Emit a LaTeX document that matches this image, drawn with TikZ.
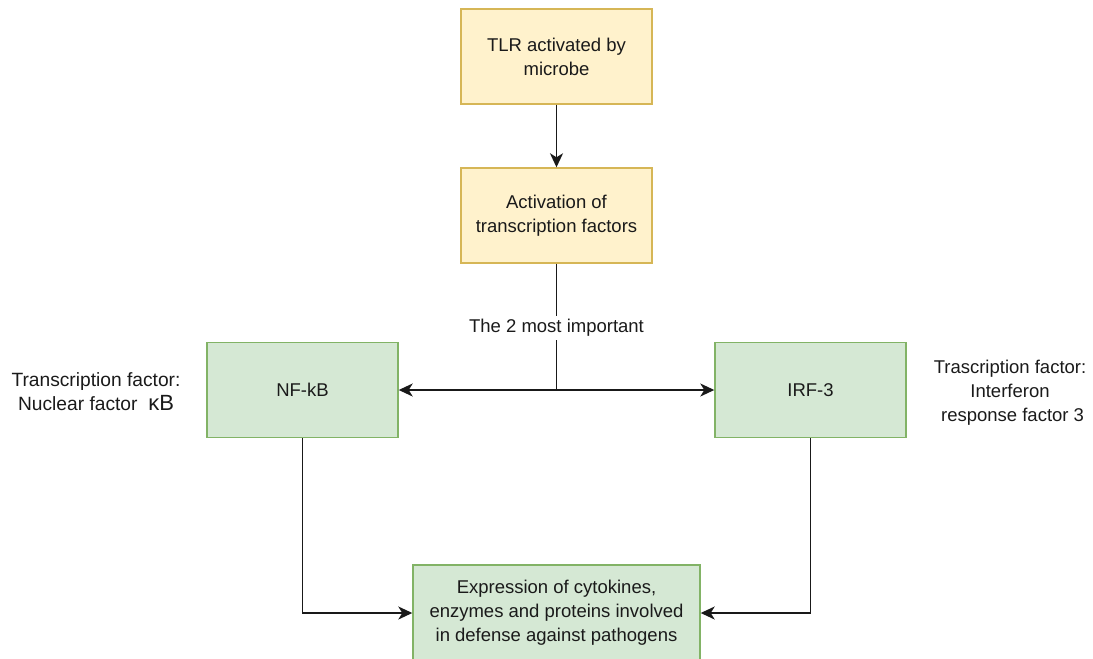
\documentclass[tikz,border=0pt]{standalone}
\usepackage{fontspec}
\setmainfont{Liberation Sans}
\usetikzlibrary{arrows.meta}
\definecolor{yfill}{HTML}{FFF2CC}
\definecolor{ydraw}{HTML}{D6B656}
\definecolor{gfill}{HTML}{D5E8D4}
\definecolor{gdraw}{HTML}{82B366}
\definecolor{txt}{HTML}{1A1A1A}
\tikzset{
  box/.style={draw, line width=1.4pt, minimum width=191pt, minimum height=95pt, align=center, inner sep=2pt, text=txt, font=\fontsize{18.5}{24}\selectfont},
  ybox/.style={box, fill=yfill, draw=ydraw},
  gbox/.style={box, fill=gfill, draw=gdraw},
  conn/.style={line width=1.5pt, draw=black!90},
  arr/.style={conn, -{Stealth[length=14pt,width=13pt,inset=4pt]}},
  side/.style={align=center, text=txt, font=\fontsize{18.5}{24}\selectfont, inner sep=0pt}
}
\begin{document}
\begin{tikzpicture}[x=1pt,y=-1pt]
\useasboundingbox (0,0) rectangle (1093,659);
\node[ybox] (tlr) at (556.5,56.5) {TLR activated by\\microbe};
\node[ybox] (act) at (556.5,215.5) {Activation of\\transcription factors};
\node[gbox] (nf) at (302.5,390) {NF-kB};
\node[gbox] (irf) at (810.5,390) {IRF-3};
\node[gbox, minimum width=287pt, minimum height=96pt] (bot) at (556.5,613) {Expression of cytokines,\\enzymes and proteins involved\\in defense against pathogens};
\coordinate (split) at (556.5,390);
\draw[arr] (tlr) -- (act);
\draw[conn] (act.south) -- (split);
\node[side, fill=white, inner sep=3pt] (lbl) at (556.5,328) {The 2 most important};
\draw[arr] (split) -- (nf.east);
\draw[arr] (split) -- (irf.west);
\draw[arr] (nf.south) |- (bot.west);
\draw[arr] (irf.south) |- (bot.east);
\node[side, font=\fontsize{19.2}{24}\selectfont] (nfl) at (96,392) {Transcription factor:\\Nuclear factor \ {\fontsize{22}{24}\selectfont κB}};
\node[side] (irfl) at (1010,393) {Trascription factor:\\Interferon\\\ response factor 3};
\end{tikzpicture}
\end{document}
